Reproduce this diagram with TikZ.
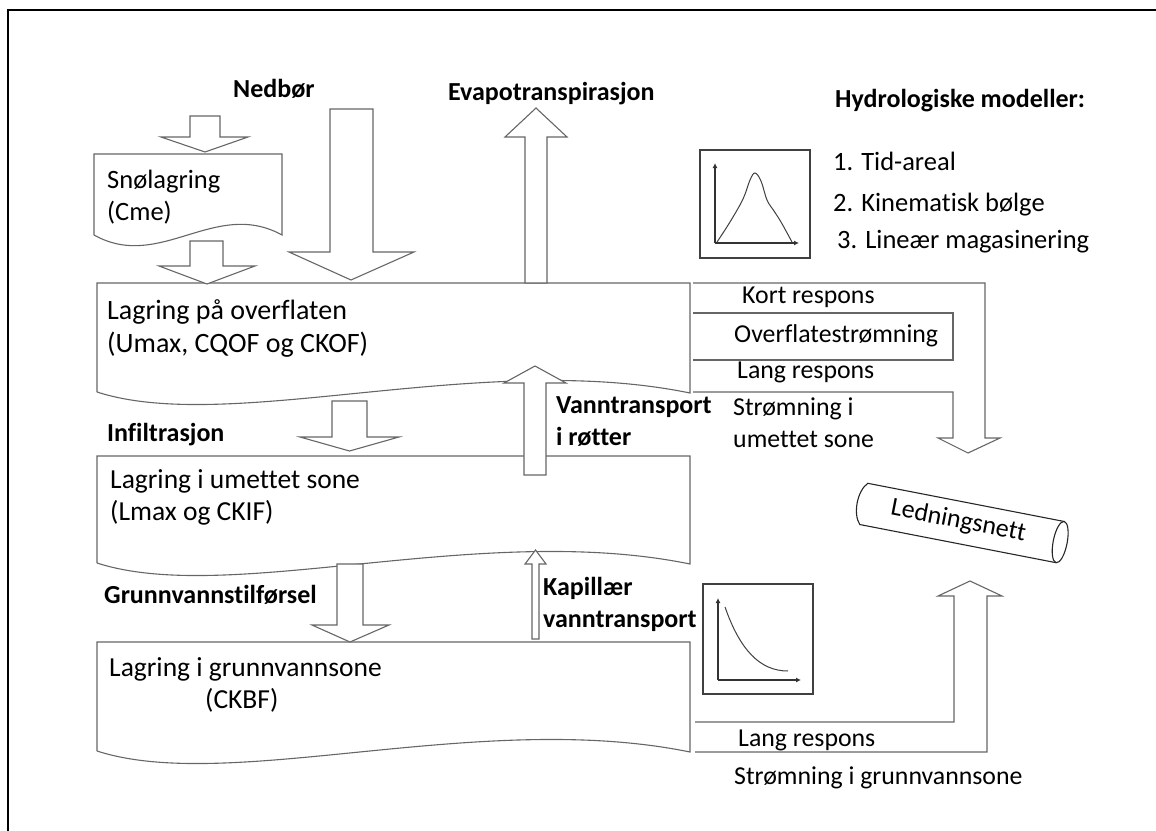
\documentclass[tikz,border=0pt]{standalone}
\usepackage{fontspec}
\setmainfont{Carlito}[Ligatures=NoCommon]
\usetikzlibrary{arrows.meta}
\begin{document}
\begin{tikzpicture}[x=1pt,y=-1pt,
  shp/.style={draw=black!60,line width=1.1pt,line join=miter},
  barrow/.style={shp,fill=white},
  txt/.style={font=\fontsize{26.5}{30}\selectfont,anchor=base west,inner sep=0pt},
  rtxt/.style={font=\fontsize{25.8}{30}\selectfont,anchor=base west,inner sep=0pt},
  btxt/.style={font=\fontsize{26}{30}\selectfont\bfseries,anchor=base west,inner sep=0pt},
  axis/.style={draw=black!80,line width=1.1pt,-{Latex[length=5pt,width=5pt]}}]
\useasboundingbox (0,0) rectangle (1156,830);
% frame
\draw[line width=2.6pt] (8,840) -- (8,10) -- (1170,10);

% storage boxes
\draw[shp] (94,235) -- (94,154) -- (282,154) -- (282,235) .. controls (215,198) and (160,272) .. (94,235);
\draw[shp] (97,392) -- (97,283) -- (690,283) -- (690,393) .. controls (480,350) and (230,435) .. (97,392);
\draw[shp] (97,563) -- (97,456) -- (690,456) -- (690,564) .. controls (480,521) and (230,606) .. (97,563);
\draw[shp] (97,751) -- (97,642) -- (690,642) -- (690,752) .. controls (480,709) and (230,794) .. (97,751);

% right flow shapes
\draw[shp] (693,283) -- (985,283) -- (985,438) -- (1000,438) -- (968,453) -- (938,438) -- (953,438) -- (953,392) -- (693,392);
\draw[shp] (693,313) -- (953,313) -- (953,360) -- (693,360);
\draw[shp] (695,752) -- (987,752) -- (987,596) -- (1002,596) -- (970,581) -- (938,596) -- (954,596) -- (954,722) -- (695,722);

% block arrows
\draw[barrow] (190,116) -- (220,116) -- (220,137) -- (248,137) -- (205,152) -- (161,137) -- (190,137) -- cycle;
\draw[barrow] (190,241) -- (223,241) -- (223,266) -- (255,266) -- (207,284) -- (159,266) -- (190,266) -- cycle;
\draw[barrow] (330,109) -- (373,109) -- (373,252) -- (414,252) -- (351,280) -- (289,252) -- (330,252) -- cycle;
\draw[barrow] (525,283) -- (547,283) -- (547,137) -- (567,137) -- (536,108) -- (505,137) -- (525,137) -- cycle;
\draw[barrow] (524,475) -- (546,475) -- (546,383) -- (566,383) -- (535,366) -- (504,383) -- (524,383) -- cycle;
\draw[barrow] (332,401) -- (367,401) -- (367,437) -- (399,437) -- (349.5,451) -- (300,437) -- (332,437) -- cycle;
\draw[barrow] (337,564) -- (363,564) -- (363,625) -- (389,625) -- (350,642) -- (312,625) -- (337,625) -- cycle;
\draw[barrow] (532,639) -- (539,639) -- (539,564) -- (546,564) -- (535.5,550) -- (525,564) -- (532,564) -- cycle;

% graph 1
\draw[shp,draw=black!75] (700,150) rectangle (810,258);
\draw[axis] (715,243) -- (715,163);
\draw[axis] (715,243) -- (799,243);
\draw[draw=black!75,line width=1pt] plot[smooth,tension=0.6] coordinates {(717,242) (730,222) (743,199) (750,180) (755,173) (761,181) (767,200) (774,211) (781,222) (792,242)};
% graph 2
\draw[shp,draw=black!75] (703,584) rectangle (813,694);
\draw[axis] (718,680) -- (718,598);
\draw[axis] (718,680) -- (801,680);
\draw[draw=black!75,line width=1pt] (725,607) .. controls (740,650) and (760,671) .. (788,671);

% pipe
\begin{scope}[shift={(962,523)},rotate=-11]
\draw[draw=black!85,line width=1.1pt] (100,-21) -- (-100,-21) .. controls (-109,-12) and (-109,12) .. (-100,21) -- (100,21);
\draw[draw=black!85,line width=1.1pt] (100,0) ellipse [x radius=7pt,y radius=21pt];
\node[font=\fontsize{26}{30}\selectfont,rotate=-11,inner sep=0pt] (led) at (-4,-1) {Ledningsnett};
\end{scope}

% texts
\node[btxt] (nedbor) at (233,97) {Nedbør};
\node[btxt] (evap) at (448,100) {Evapotranspirasjon};
\node[btxt] (hyd) at (835,107) {Hydrologiske modeller:};
\node[txt] (m1) at (833,170) {1. Tid-areal};
\node[txt] (m2) at (833,211) {2. Kinematisk bølge};
\node[txt] (m3) at (837,248) {3. Lineær magasinering};
\node[txt] (sno1) at (107,188) {Snølagring};
\node[txt] (sno2) at (107,220) {(Cme)};
\node[txt,font=\fontsize{28}{32}\selectfont] (ov1) at (107,319) {Lagring på overflaten};
\node[txt,font=\fontsize{28}{32}\selectfont] (ov2) at (107,352) {(Umax, CQOF og CKOF)};
\node[rtxt] (kort) at (742,303) {Kort respons};
\node[rtxt] (ovst) at (734,342) {Overflatestrømning};
\node[rtxt] (lang1) at (737,378) {Lang respons};
\node[rtxt] (str1) at (733,415) {Strømning i};
\node[rtxt] (str2) at (733,447) {umettet sone};
\node[btxt] (vt1) at (556,413) {Vanntransport};
\node[btxt] (vt2) at (556,445) {i røtter};
\node[btxt] (inf) at (107,441) {Infiltrasjon};
\node[txt,font=\fontsize{27.5}{31}\selectfont] (um1) at (110,488) {Lagring i umettet sone};
\node[txt,font=\fontsize{27.5}{31}\selectfont] (um2) at (110,520) {(Lmax og CKIF)};
\node[btxt] (gtf) at (104,603) {Grunnvannstilførsel};
\node[btxt] (kap1) at (543,595) {Kapillær};
\node[btxt] (kap2) at (543,627) {vanntransport};
\node[txt,font=\fontsize{27.5}{31}\selectfont] (gv1) at (109,676) {Lagring i grunnvannsone};
\node[txt,font=\fontsize{27.5}{31}\selectfont] (gv2) at (205,708) {(CKBF)};
\node[rtxt] (lang2) at (738,746) {Lang respons};
\node[rtxt] (strg) at (734,784) {Strømning i grunnvannsone};
\end{tikzpicture}
\end{document}
